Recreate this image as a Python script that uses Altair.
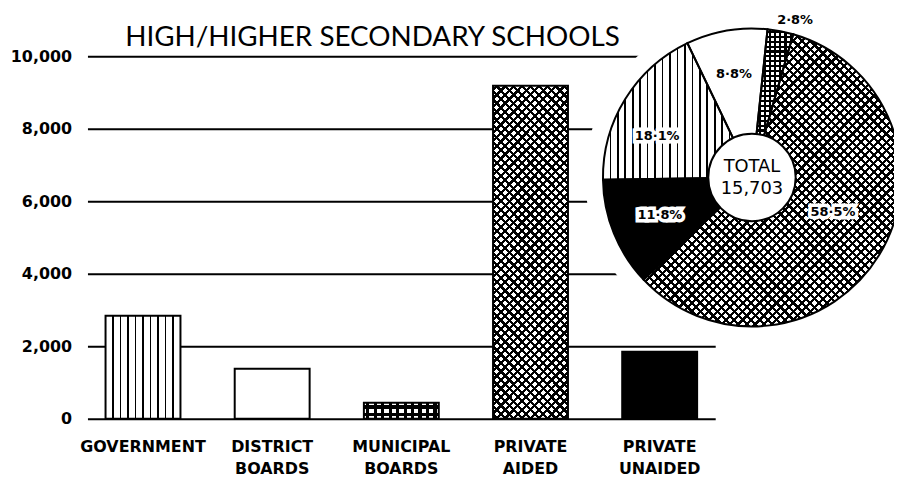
import math
import altair as alt
import pandas as pd

# ---------------- data ----------------
categories = ["GOVERNMENT", "DISTRICT BOARDS", "MUNICIPAL BOARDS", "PRIVATE AIDED", "PRIVATE UNAIDED"]
schools = [2842, 1382, 440, 9186, 1853]
pie_order = ["MUNICIPAL BOARDS", "PRIVATE AIDED", "PRIVATE UNAIDED", "GOVERNMENT", "DISTRICT BOARDS"]
y_ticks = [0, 2000, 4000, 6000, 8000, 10000]
chart_title = "HIGH/HIGHER SECONDARY SCHOOLS"
total_caption = "TOTAL"

total = sum(schools)
df = pd.DataFrame({"cat": categories, "n": schools})
df["order"] = df["cat"].map({c: i for i, c in enumerate(pie_order)})
df = df.sort_values("order").reset_index(drop=True)
df["end"] = df["n"].cumsum()
df["start"] = df["end"] - df["n"]
df["mid"] = (df["start"] + df["end"]) / 2
df["pct"] = [f"{v / total * 100:.1f}%".replace(".", "·") for v in df["n"]]
totals = pd.DataFrame({"total": [total], "caption": [total_caption]})

# ---------------- layout / style ----------------
PLOT_W, PLOT_H = 632, 365
CX, CY, R = 669, 122, 150          # pie centre (plot coords) and radius
ROT = math.radians(6)
FONT = "DejaVu Sans"
CLEAR = "rgba(255,255,255,0)"


def stripes(n, frac, x1, y1, x2, y2, phase=0.5, color="black"):
    stops = [{"offset": 0, "color": CLEAR}]
    for k in range(n + 1):
        a = (k + phase - frac / 2) / n
        b = (k + phase + frac / 2) / n
        a, b = max(0.0, min(1.0, a)), max(0.0, min(1.0, b))
        if b <= a:
            continue
        stops += [
            {"offset": round(a, 5), "color": CLEAR},
            {"offset": round(a, 5), "color": color},
            {"offset": round(b, 5), "color": color},
            {"offset": round(b, 5), "color": CLEAR},
        ]
    stops.append({"offset": 1, "color": CLEAR})
    return {"gradient": "linear", "x1": x1, "y1": y1, "x2": x2, "y2": y2, "stops": stops}


def vstripes(n, frac, phase=0.5):
    return stripes(n, frac, 0, 0, 1, 0, phase)


def hstripes(n, frac, phase=0.5):
    return stripes(n, frac, 0, 0, 0, 1, phase)


def crosshatch(w, h, n, frac):
    k = (w + h) / (w * w + h * h)
    return [stripes(n, frac, 0, 0, k * w, k * h), stripes(n, frac, 0, 1, k * w, 1 - k * h)]


bar_style = {
    "GOVERNMENT": ("white", [vstripes(10, 0.22, 0.0)]),
    "DISTRICT BOARDS": ("white", []),
    "MUNICIPAL BOARDS": ("white", [vstripes(10, 0.42), hstripes(2, 0.42)]),
    "PRIVATE AIDED": ("white", crosshatch(76, 335, 48, 0.38)),
    "PRIVATE UNAIDED": ("black", []),
}
pie_style = {
    "GOVERNMENT": ("white", [vstripes(20, 0.22, 0.0)]),
    "DISTRICT BOARDS": ("white", []),
    "MUNICIPAL BOARDS": ("white", [vstripes(8, 0.42), hstripes(30, 0.42)]),
    "PRIVATE AIDED": ("white", crosshatch(259, 294, 65, 0.38)),
    "PRIVATE UNAIDED": ("black", []),
}
label_style = {
    "MUNICIPAL BOARDS": dict(radius=164, dx=12, dy=2, halo=False),
    "PRIVATE AIDED": dict(radius=85, dx=9, dy=-9, halo=True),
    "PRIVATE UNAIDED": dict(radius=100, dx=0, dy=0, halo=True),
    "GOVERNMENT": dict(radius=104, dx=-7, dy=13, halo=True),
    "DISTRICT BOARDS": dict(radius=106, dx=0, dy=0, halo=False),
}

# ---------------- encodings ----------------
x_enc = alt.X(
    "cat:N",
    scale=alt.Scale(domain=categories, paddingInner=0.42, paddingOuter=0.14),
    axis=alt.Axis(
        title=None, labelExpr="split(datum.label, ' ')", labelAngle=0, domain=False,
        ticks=False, labelPadding=20, labelFont=FONT, labelFontSize=16,
        labelFontWeight="bold", labelColor="black", labelLineHeight=22,
    ),
)
y_enc = alt.Y(
    "n:Q",
    scale=alt.Scale(domain=[0, 10000], nice=False),
    axis=alt.Axis(
        title=None, values=y_ticks, format=",.0f", grid=True, gridColor="black",
        gridWidth=2, gridOpacity=1, domain=False, ticks=False, labelPadding=16,
        labelFont=FONT, labelFontSize=16, labelFontWeight="bold", labelColor="black",
    ),
)
theta_scale = alt.Scale(domain=[0, total], range=[ROT, ROT + 2 * math.pi], nice=False, zero=False)
center = dict(x=alt.value(CX), y=alt.value(CY))

layers = []

# white clearing disc behind the pie (gaps in gridlines)
layers.append(
    alt.Chart(totals).mark_arc(theta=0, theta2=2 * math.pi, outerRadius=R + 18, fill="white", strokeWidth=0)
    .encode(**center)
)

# bars
for c in categories:
    fill0, overlays = bar_style[c]
    sub = alt.Chart(df).transform_filter(alt.datum.cat == c)
    layers.append(sub.mark_bar(fill=fill0, strokeWidth=0).encode(x=x_enc, y=y_enc))
    for g in overlays:
        layers.append(sub.mark_bar(fill=g, strokeWidth=0).encode(x=x_enc, y=y_enc))
    layers.append(
        sub.mark_bar(fill="white", fillOpacity=0, stroke="black", strokeWidth=2).encode(x=x_enc, y=y_enc)
    )

# pie slices
for c in pie_order:
    fill0, overlays = pie_style[c]
    sub = alt.Chart(df).transform_filter(alt.datum.cat == c)
    enc = dict(theta=alt.Theta("start:Q", stack=None, scale=theta_scale), theta2=alt.Theta2("end:Q"), **center)
    layers.append(sub.mark_arc(outerRadius=R, fill=fill0, strokeWidth=0).encode(**enc))
    for g in overlays:
        layers.append(sub.mark_arc(outerRadius=R, fill=g, strokeWidth=0).encode(**enc))
for c in pie_order:
    sub = alt.Chart(df).transform_filter(alt.datum.cat == c)
    enc = dict(theta=alt.Theta("start:Q", stack=None, scale=theta_scale), theta2=alt.Theta2("end:Q"), **center)
    layers.append(
        sub.mark_arc(outerRadius=R, fill="white", fillOpacity=0, stroke="black", strokeWidth=2).encode(**enc)
    )

# percentage labels
for c in pie_order:
    st = label_style[c]
    sub = alt.Chart(df).transform_filter(alt.datum.cat == c)
    enc = dict(theta=alt.Theta("mid:Q", stack=None, scale=theta_scale), text="pct:N", **center)
    common = dict(radius=st["radius"], dx=st["dx"], dy=st["dy"], font=FONT, fontSize=13,
                  fontWeight="bold", align="center", baseline="middle")
    if st["halo"]:
        layers.append(sub.mark_text(stroke="white", strokeWidth=7, strokeJoin="miter", fill="white", **common).encode(**enc))
    layers.append(sub.mark_text(fill="black", **common).encode(**enc))

# centre disc with total
layers.append(
    alt.Chart(totals).mark_arc(theta=0, theta2=2 * math.pi, outerRadius=44, fill="white",
                               stroke="black", strokeWidth=2).encode(**center)
)
layers.append(
    alt.Chart(totals).mark_text(dy=-10, font=FONT, fontSize=18, align="center", baseline="middle", color="black")
    .encode(text="caption:N", **center)
)
layers.append(
    alt.Chart(totals).mark_text(dy=12, font=FONT, fontSize=18, align="center", baseline="middle", color="black")
    .encode(text=alt.Text("total:Q", format=",.0f"), **center)
)

# title sitting on the 10,000 line
layers.append(
    alt.Chart(totals).mark_text(font="Lato", fontSize=28, align="center", baseline="alphabetic", color="black")
    .encode(x=alt.value(287), y=alt.value(-10), text=alt.value(chart_title))
)

chart = (
    alt.layer(*layers)
    .properties(
        width=PLOT_W,
        height=PLOT_H,
        autosize=alt.AutoSizeParams(type="none"),
        padding={"left": 80, "top": 47, "right": 180, "bottom": 58},
        background="white",
    )
    .configure_view(stroke=None)
)

chart.save("out.html", embed_options={"renderer": "svg", "actions": False})
